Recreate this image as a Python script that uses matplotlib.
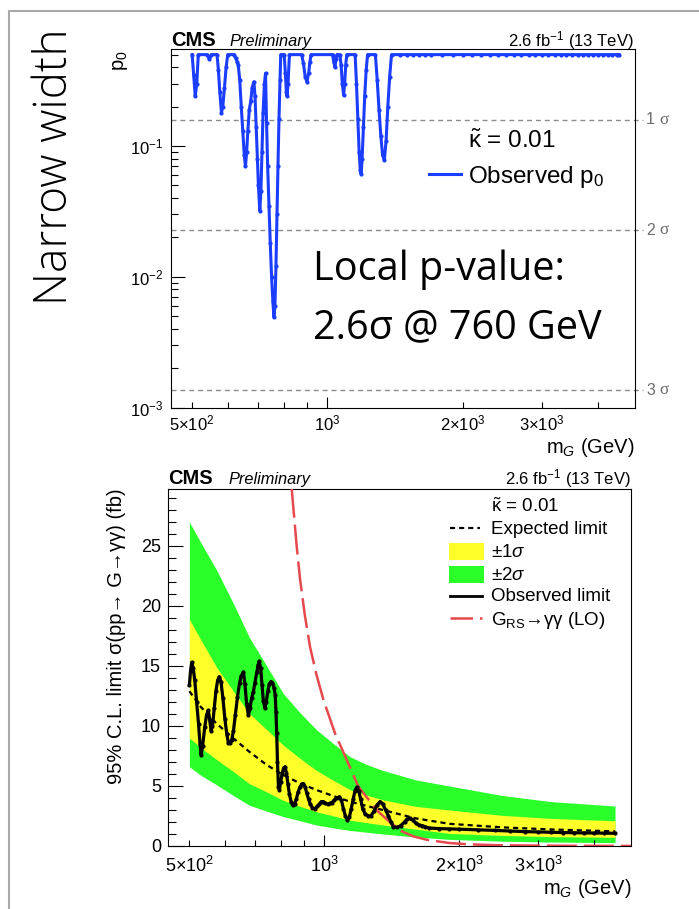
import math
import matplotlib
matplotlib.use("Agg")
import matplotlib.pyplot as plt
from matplotlib.lines import Line2D
from matplotlib.patches import Rectangle
from matplotlib.ticker import FixedLocator, FuncFormatter, LogLocator, NullFormatter

plt.rcParams['font.family'] = ['Liberation Sans', 'DejaVu Sans']
plt.rcParams['mathtext.fontset'] = 'custom'
plt.rcParams['mathtext.rm'] = 'Liberation Sans'
plt.rcParams['mathtext.it'] = 'Liberation Sans:italic'
plt.rcParams['mathtext.bf'] = 'Liberation Sans:bold'

# observed local p0 vs graviton mass (GeV)
p0_mass = [500, 504, 508, 512, 516, 540, 546, 552, 568, 572, 576, 581, 585, 590, 595, 600,
           620, 625, 630, 633, 638, 643, 648, 653, 657, 661, 665, 670, 675, 680, 686, 690,
           694, 698, 702, 707, 711, 715, 719, 724, 728, 732, 736, 741, 746, 751, 756, 760,
           764, 768, 772, 776, 780, 784, 787, 801, 806, 810, 813, 817, 823, 876, 884, 892,
           900, 908, 914, 919, 1026, 1033, 1039, 1044, 1050, 1065, 1072, 1079, 1086, 1092,
           1098, 1104, 1152, 1160, 1168, 1176, 1183, 1188, 1194, 1202, 1210, 1219, 1228,
           1278, 1290, 1302, 1314, 1326, 1338, 1350, 1362, 1375, 1388, 1450, 1500, 1550,
           1600, 1650, 1700, 1800, 1900, 2000, 2100, 2200, 2300, 2400, 2500, 2600, 2700,
           2800, 2900, 3000, 3100, 3200, 3300, 3400, 3500, 3600, 3700, 3800, 3900, 4000,
           4100, 4200, 4300, 4400, 4450]
p0_obs = [0.50, 0.35, 0.24, 0.30, 0.50, 0.50, 0.46, 0.50, 0.50, 0.38, 0.26, 0.18, 0.20, 0.28, 0.40, 0.50,
          0.50, 0.47, 0.44, 0.42, 0.32, 0.20, 0.13, 0.085, 0.070, 0.090, 0.13, 0.19, 0.22, 0.28, 0.31, 0.24,
          0.14, 0.080, 0.050, 0.032, 0.045, 0.090, 0.18, 0.30, 0.36, 0.15, 0.070, 0.035, 0.018, 0.010, 0.0065, 0.0049,
          0.0060, 0.012, 0.030, 0.070, 0.16, 0.32, 0.50, 0.50, 0.36, 0.26, 0.24, 0.30, 0.50, 0.50, 0.43, 0.34,
          0.31, 0.36, 0.44, 0.50, 0.50, 0.44, 0.40, 0.46, 0.50, 0.50, 0.42, 0.30, 0.245, 0.30,
          0.42, 0.50, 0.50, 0.30, 0.16, 0.090, 0.065, 0.061, 0.080, 0.14, 0.24, 0.38, 0.50,
          0.50, 0.32, 0.19, 0.12, 0.085, 0.078, 0.11, 0.20, 0.34, 0.50, 0.50, 0.50, 0.50,
          0.50, 0.50, 0.50, 0.50, 0.50, 0.50, 0.50, 0.50, 0.50, 0.50, 0.50, 0.50, 0.50,
          0.50, 0.50, 0.50, 0.50, 0.50, 0.50, 0.50, 0.50, 0.50, 0.50, 0.50, 0.50, 0.50,
          0.50, 0.50, 0.50, 0.50, 0.50]
sigma_levels = [1, 2, 3]

# expected limit and bands (fb)
band_mass = [500, 530, 575, 627, 680, 744, 810, 883, 960, 1050, 1140, 1240, 1350, 1600, 1900, 2500, 3200, 4450]
exp_limit = [12.9, 11.6, 10.2, 8.97, 7.86, 6.75, 5.92, 5.22, 4.67, 4.15, 3.7, 3.35, 3.0, 2.3, 1.85, 1.55, 1.38, 1.22]
one_hi = [18.9, 17.2, 14.9, 12.9, 11.05, 9.7, 8.4, 7.3, 6.3, 5.45, 4.7, 4.25, 3.85, 3.3, 3.0, 2.55, 2.3, 2.1]
one_lo = [9.0, 8.2, 7.2, 6.2, 5.2, 4.5, 3.8, 3.3, 2.85, 2.5, 2.15, 1.95, 1.75, 1.4, 1.05, 0.88, 0.78, 0.72]
two_hi = [27.0, 25.3, 23.0, 20.2, 17.4, 15.0, 12.7, 11.1, 9.7, 8.5, 7.45, 6.8, 6.3, 5.5, 5.0, 4.2, 3.7, 3.33]
two_lo = [6.6, 5.9, 5.1, 4.2, 3.4, 2.9, 2.45, 2.1, 1.75, 1.5, 1.3, 1.15, 1.0, 0.75, 0.55, 0.4, 0.33, 0.28]

# observed limit (fb)
obs_mass = [500, 503, 506, 510, 514, 519, 524, 528, 531, 535, 541, 546, 551, 555, 559, 563, 568, 573,
            578, 583, 588, 594, 600, 606, 611, 616, 621, 627, 633, 640, 647, 653, 660, 665, 671, 677,
            683, 688, 694, 700, 707, 712, 716, 721, 726, 731, 737, 742, 748, 754, 760, 766, 772, 777,
            780, 783, 786, 790, 794, 799, 805, 811, 817, 823, 829, 836, 843, 850, 858, 866, 874, 882,
            890, 898, 906, 914, 922, 930, 940, 953, 964, 975, 985, 995, 1005, 1017, 1028, 1039, 1050,
            1065, 1080, 1092, 1103, 1114, 1126, 1137, 1148, 1160, 1170, 1181, 1193, 1205, 1218, 1232,
            1254, 1270, 1290, 1310, 1331, 1350, 1370, 1390, 1408, 1425, 1450, 1480, 1510, 1530, 1551,
            1575, 1600, 1625, 1650, 1680, 1712, 1800, 1900, 2000, 2200, 2400, 2600, 2800, 3000, 3200,
            3400, 3600, 3800, 4000, 4200, 4450]
obs_limit = [13.4, 14.6, 15.3, 14.8, 13.8, 12.0, 10.2, 8.5, 7.6, 8.3, 9.9, 10.9, 11.3, 10.5, 9.6, 10.0, 11.5, 12.9,
             13.8, 14.1, 13.7, 12.3, 10.6, 9.3, 8.6, 8.6, 8.8, 9.6, 10.9, 12.4, 13.6, 14.2, 14.5, 13.5, 11.8, 10.9,
             11.5, 12.3, 12.8, 13.6, 14.5, 15.1, 15.4, 14.8, 13.4, 12.1, 11.5, 12.0, 12.9, 13.5, 13.7, 13.6, 13.2, 12.6,
             11.2, 9.4, 7.0, 4.95, 4.7, 5.3, 6.0, 6.5, 6.6, 6.1, 5.2, 4.3, 3.7, 3.4, 3.5, 3.9, 4.5, 4.9,
             5.15, 5.2, 4.9, 4.4, 3.9, 3.5, 3.2, 3.1, 3.3, 3.5, 3.7, 3.7, 3.55, 3.5, 3.55, 3.6, 3.8,
             4.0, 4.1, 3.8, 3.1, 2.5, 2.17, 2.4, 3.1, 3.9, 4.6, 4.9, 4.6, 3.9, 3.1, 2.7,
             2.5, 2.5, 2.9, 3.4, 3.7, 3.5, 3.0, 2.5, 2.0, 1.6, 1.55, 1.7, 2.0, 2.25, 2.3,
             2.15, 1.9, 1.75, 1.7, 1.6, 1.5, 1.45, 1.42, 1.4, 1.35, 1.3, 1.25, 1.2, 1.17, 1.14,
             1.12, 1.1, 1.09, 1.08, 1.07, 1.06]

# RS graviton LO cross section x BR(gamma gamma) (fb)
rs_mass = [820, 846, 868, 883, 905, 929, 960, 995, 1056, 1122, 1191, 1265, 1324, 1400, 1484,
           1580, 1702, 1900, 2092, 2400, 2800, 3400, 4200, 4830]
rs_xsec = [36.0, 29.7, 24.9, 22.2, 19.2, 16.6, 14.3, 12.2, 9.4, 7.17, 4.95, 3.7, 2.8, 2.0, 1.25,
           0.8, 0.5, 0.25, 0.14, 0.07, 0.04, 0.02, 0.01, 0.005]

blue = '#1a3dff'
yellow = '#ffff2a'
green = '#2aff2a'
red = '#e5484d'
W, H = 699, 909


def fx(px):
    return px / W


def fy(py):
    return 1 - py / H


def mass_label(v, pos):
    labels = {500: r'$5{\times}10^{2}$', 1000: r'$10^{3}$',
              2000: r'$2{\times}10^{3}$', 3000: r'$3{\times}10^{3}$'}
    return labels.get(int(round(v)), '')


def mass_axis(ax, pad):
    ax.set_xscale('log')
    ax.set_xlim(448, 4830)
    ax.xaxis.set_major_locator(FixedLocator([1000]))
    ax.xaxis.set_minor_locator(FixedLocator([500, 600, 700, 800, 900, 2000, 3000, 4000]))
    ax.xaxis.set_major_formatter(FuncFormatter(mass_label))
    ax.xaxis.set_minor_formatter(FuncFormatter(mass_label))
    ax.tick_params(axis='x', which='major', length=8, pad=pad)
    ax.tick_params(axis='x', which='minor', length=4, pad=pad)


fig = plt.figure(figsize=(W / 100, H / 100), dpi=100)

# ---------------- local p-value ----------------
ax1 = fig.add_axes([fx(170.7), fy(407.5), (635 - 170.7) / W, (407.5 - 49) / H])
ax1.plot(p0_mass, p0_obs, color=blue, lw=2.2, marker='o', ms=2.0, zorder=3)
for n in sigma_levels:
    p = 0.5 * math.erfc(n / math.sqrt(2))
    ax1.axhline(p, xmin=0, xmax=1.018, color='#8c8c8c', lw=1.0, dashes=(3.6, 2.8), clip_on=False, zorder=2)
    ax1.text(1.024, p, str(n), transform=ax1.get_yaxis_transform(), ha='left', va='center',
             fontsize=11.5, color='#6e6e6e')
    ax1.text(1.052, p, 'σ', transform=ax1.get_yaxis_transform(), ha='left', va='center',
             fontsize=12.5, color='#6e6e6e', family='Liberation Serif')
mass_axis(ax1, 4.5)
ax1.set_yscale('log')
ax1.set_ylim(1e-3, 0.552)
ax1.yaxis.set_major_locator(LogLocator(base=10))
ax1.yaxis.set_minor_locator(LogLocator(base=10, subs=range(2, 10)))
ax1.yaxis.set_minor_formatter(NullFormatter())
ax1.tick_params(axis='y', which='major', length=10, pad=5)
ax1.tick_params(axis='y', which='minor', length=5)
ax1.tick_params(which='both', direction='in', top=False, right=False, labelsize=12, width=0.8)

fig.text(fx(170.7), fy(46), 'CMS', fontsize=14.5, fontweight='bold', va='baseline')
fig.text(fx(230), fy(46), 'Preliminary', fontsize=11.8, style='italic', va='baseline')
fig.text(fx(634), fy(46), r'2.6 fb$^{-1}$ (13 TeV)', fontsize=12, ha='right', va='baseline')
fig.text(fx(121), fy(50), r'p$_0$', fontsize=14.5, rotation=90, ha='center', va='top')
fig.text(fx(634), fy(436), r'm$_G$ (GeV)', fontsize=14.5, ha='right', va='top')

fig.text(fx(468), fy(148), r'$\tilde{\mathrm{\kappa}}$ = 0.01', fontsize=17.5, va='baseline')
fig.add_artist(Line2D([fx(428.6), fx(460.7)], [fy(174), fy(174)], color=blue, lw=2.2))
fig.text(fx(468), fy(183), r'Observed p$_0$', fontsize=17.5, va='baseline')

fig.text(fx(313), fy(280), 'Local p-value:', fontsize=28.5, family='Open Sans', va='baseline')
fig.text(fx(313), fy(338), '2.6σ @ 760 GeV', fontsize=28.5, family='Open Sans', va='baseline')
fig.text(fx(55), fy(167), 'Narrow width', fontsize=33, family='Open Sans', fontweight='light',
         rotation=90, ha='center', va='center')

# ---------------- 95% CL limits ----------------
ax2 = fig.add_axes([fx(168), fy(846), (631 - 168) / W, (846 - 489) / H])
ax2.fill_between(band_mass, two_lo, two_hi, color=green, lw=0, zorder=1)
ax2.fill_between(band_mass, one_lo, one_hi, color=yellow, lw=0, zorder=1.5)
ax2.plot(band_mass, exp_limit, color='black', lw=1.6, dashes=(2.3, 1.8), zorder=3)
ax2.plot(rs_mass, rs_xsec, color=red, lw=1.8, dashes=(12, 2.8), zorder=3.5)
ax2.plot(obs_mass, obs_limit, color='black', lw=2.3, marker='o', ms=2.0, zorder=4)
mass_axis(ax2, 7)
ax2.set_ylim(0, 29.75)
ax2.yaxis.set_major_locator(FixedLocator([0, 5, 10, 15, 20, 25]))
ax2.yaxis.set_minor_locator(FixedLocator(range(0, 30)))
ax2.tick_params(axis='y', which='major', length=11, pad=5)
ax2.tick_params(axis='y', which='minor', length=5.5)
ax2.tick_params(which='both', direction='in', top=False, right=False, labelsize=13, width=0.8)

fig.text(fx(168), fy(484), 'CMS', fontsize=14.5, fontweight='bold', va='baseline')
fig.text(fx(228.6), fy(484), 'Preliminary', fontsize=11.8, style='italic', va='baseline')
fig.text(fx(631), fy(484), r'2.6 fb$^{-1}$ (13 TeV)', fontsize=12, ha='right', va='baseline')
fig.text(fx(116), fy(488), '95% C.L. limit σ(pp→ G→γγ) (fb)', fontsize=14.5, rotation=90,
         ha='center', va='top')
fig.text(fx(631), fy(877), r'm$_G$ (GeV)', fontsize=14.5, ha='right', va='top')

leg_x = 491
leg_fs = 13.5
fig.text(fx(leg_x), fy(511.5), r'$\tilde{\mathrm{\kappa}}$ = 0.01', fontsize=leg_fs, va='baseline')
fig.add_artist(Line2D([fx(450), fx(480)], [fy(527.7), fy(527.7)], color='black', lw=1.6, dashes=(2.3, 1.8)))
fig.text(fx(leg_x), fy(534), 'Expected limit', fontsize=leg_fs, va='baseline')
fig.add_artist(Rectangle((fx(449), fy(560)), (484 - 449) / W, 17 / H, transform=fig.transFigure,
                         color=yellow, lw=0))
fig.text(fx(leg_x), fy(557), r'$\pm1\sigma$', fontsize=leg_fs, va='baseline')
fig.add_artist(Rectangle((fx(449), fy(583)), (484 - 449) / W, 17 / H, transform=fig.transFigure,
                         color=green, lw=0))
fig.text(fx(leg_x), fy(580), r'$\pm2\sigma$', fontsize=leg_fs, va='baseline')
fig.add_artist(Line2D([fx(450), fx(482)], [fy(595.7), fy(595.7)], color='black', lw=2.0))
fig.text(fx(leg_x), fy(601), 'Observed limit', fontsize=leg_fs, va='baseline')
fig.add_artist(Line2D([fx(450), fx(482)], [fy(618.3), fy(618.3)], color=red, lw=1.8, dashes=(9, 2.8)))
fig.text(fx(leg_x), fy(625), r'G$_{\mathrm{RS}}$→γγ (LO)', fontsize=leg_fs, va='baseline')

# page frame
fig.add_artist(Line2D([fx(9), fx(9), fx(720)], [fy(940), fy(11), fy(11)], color='#a8a8a8', lw=1.5))

fig.savefig('out.png', dpi=100)
